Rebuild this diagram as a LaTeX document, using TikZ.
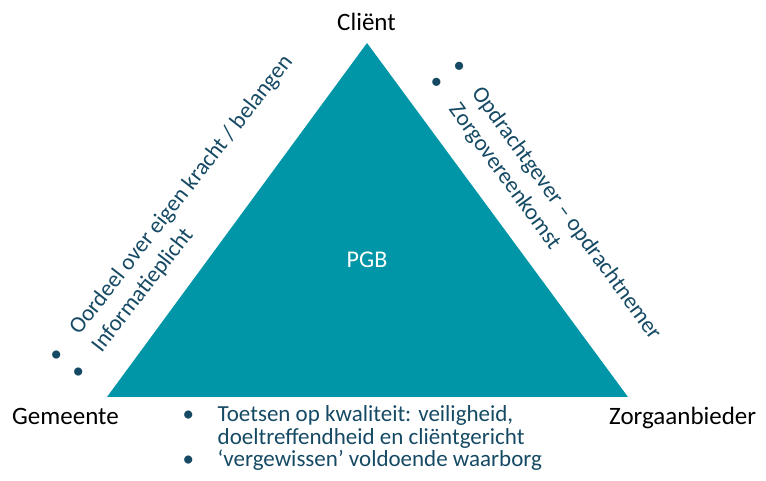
\documentclass[tikz,border=0pt]{standalone}
\usepackage{fontspec}
\setmainfont{Carlito}
\definecolor{tealfill}{RGB}{0,150,167}
\definecolor{txtblue}{RGB}{22,74,100}
\newcommand\mybul{\llap{\makebox[35pt][l]{•}}}
\tikzset{
  lbl/.style={inner sep=0pt, text=black, font=\fontsize{25}{30}\selectfont},
  body/.style={inner sep=0pt, text=txtblue, font=\fontsize{23}{27}\selectfont},
  pgbtext/.style={inner sep=0pt, text=white, font=\fontsize{24}{29}\selectfont},
}
\begin{document}
\begin{tikzpicture}[x=1pt,y=1pt]
\useasboundingbox (0,0) rectangle (766,481);
\coordinate (A) at (367,438);
\coordinate (B) at (107,84);
\coordinate (C) at (628,84);
\fill[tealfill] (A) -- (B) -- (C) -- cycle;

\node[lbl, anchor=base] (client) at (366.5,450) {Cliënt};
\node[lbl, anchor=base west] (gemeente) at (12,56) {Gemeente};
\node[lbl, anchor=base west] (zorg) at (609,56) {Zorgaanbieder};
\node[pgbtext, anchor=base] (pgb) at (367,213) {PGB};

\node[body, anchor=base west] (b1) at (217.5,59) {\mybul Toetsen op kwaliteit: veiligheid,};
\node[body, anchor=base west] (b2) at (217.5,36) {doeltreffendheid en cliëntgericht};
\node[body, anchor=base west] (b3) at (217.5,14) {\mybul ‘vergewissen’ voldoende waarborg};

\begin{scope}[shift={(58,127.5)}, rotate=52, transform shape]
  \node[body, anchor=base west] (l1) at (27,-6) {\mybul Oordeel over eigen kracht / belangen};
  \node[body, anchor=base west] (l2) at (27,-34) {\mybul Informatieplicht};
\end{scope}

\begin{scope}[shift={(460,413)}, rotate=-54, transform shape]
  \node[body, anchor=base west] (r1) at (27,-6) {\mybul Opdrachtgever – opdrachtnemer};
  \node[body, anchor=base west] (r2) at (27,-34) {\mybul Zorgovereenkomst};
\end{scope}
\end{tikzpicture}
\end{document}
